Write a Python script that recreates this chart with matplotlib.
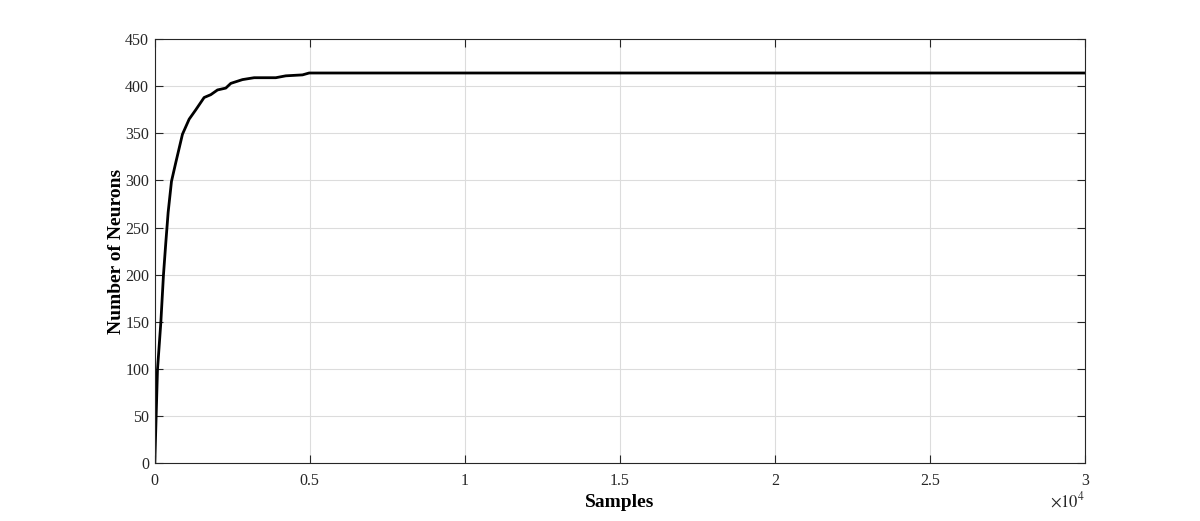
import matplotlib as mpl
mpl.use('Agg')
import matplotlib.pyplot as plt

# neuron count vs samples
samples = [0, 86, 194, 280, 355, 430, 538, 677, 892, 1108, 1323, 1591, 1806,
           2022, 2290, 2452, 2828, 3204, 3903, 4226, 4764, 4979, 5200, 30000]
neurons = [0, 99, 149, 200, 234, 266, 299, 319, 349, 365, 375, 388, 391,
           396, 398, 403, 407, 409, 409, 411, 412, 414, 414, 414]

xticks = [0, 5000, 10000, 15000, 20000, 25000, 30000]
xticklabels = ["0", "0.5", "1", "1.5", "2", "2.5", "3"]
yticks = list(range(0, 451, 50))

plt.rcParams['font.family'] = ['Liberation Serif', 'DejaVu Serif']
plt.rcParams['mathtext.fontset'] = 'stix'

fig = plt.figure(figsize=(12, 5.21), dpi=100)
ax = fig.add_axes([0.129, 0.111, 0.775, 0.814])

ax.plot(samples, neurons, color='black', lw=2)
ax.set_xlim(0, 30000)
ax.set_ylim(0, 450)
ax.set_xticks(xticks)
ax.set_xticklabels(xticklabels)
ax.set_yticks(yticks)
ax.grid(True, color='#dcdcdc', lw=0.8)
ax.tick_params(direction='in', top=True, right=True, labelsize=11.5,
               colors='#262626', length=6, width=0.8)
ax.tick_params(axis='x', pad=7)
ax.tick_params(axis='y', pad=4)
for s in ax.spines.values():
    s.set_color('#262626')
    s.set_linewidth(0.8)

ax.set_xlabel("Samples", fontsize=14, fontweight='bold', labelpad=4)
ax.set_ylabel("Number of Neurons", fontsize=14, fontweight='bold', labelpad=0)
ax.text(1.0, -0.065, r"$\times10^4$", transform=ax.transAxes, ha='right',
        va='top', fontsize=12, color='#262626')

fig.savefig("out.png")
